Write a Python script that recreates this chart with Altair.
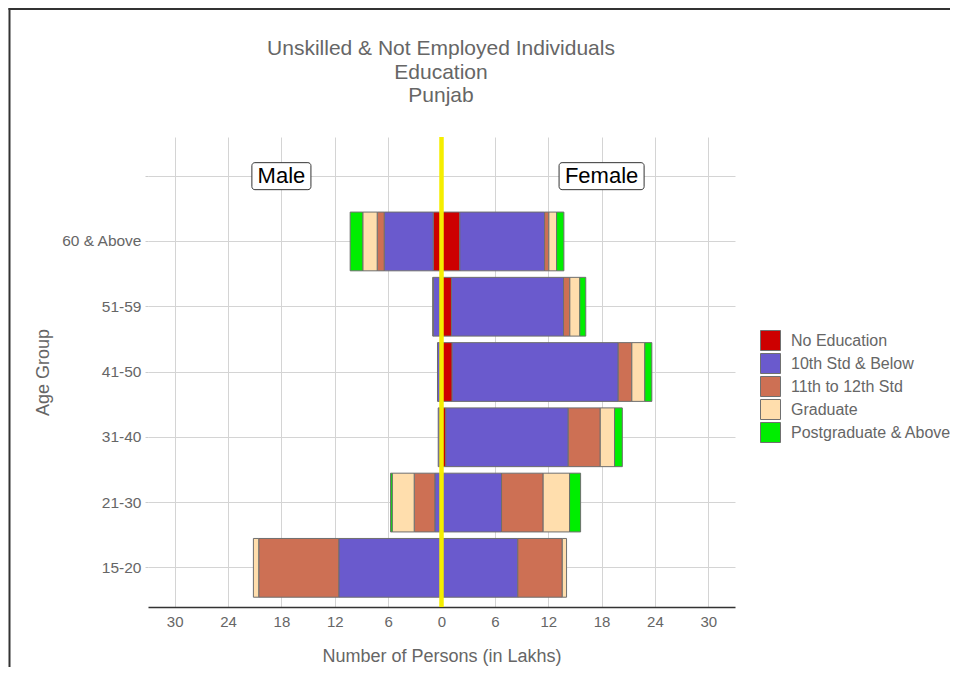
import altair as alt
import pandas as pd

# ---------------- data ----------------
age_groups = ["60 & Above", "51-59", "41-50", "31-40", "21-30", "15-20"]
education = ["No Education", "10th Std & Below", "11th to 12th Std",
             "Graduate", "Postgraduate & Above"]
edu_colors = ["#CD0000", "#6A5ACD", "#CD7054", "#FFDEAD", "#00EE00"]

# values in lakhs, order follows age_groups
male_no_edu = [0.93, 0.20, 0.15, 0.12, 0.05, 0.00]
male_10th = [5.51, 0.70, 0.30, 0.25, 0.70, 11.55]
male_11_12 = [0.79, 0.04, 0.00, 0.00, 2.32, 9.00]
male_grad = [1.62, 0.04, 0.00, 0.00, 2.47, 0.60]
male_pg = [1.42, 0.00, 0.00, 0.00, 0.19, 0.00]

female_no_edu = [2.06, 1.12, 1.20, 0.48, 0.03, 0.00]
female_10th = [9.53, 12.60, 18.67, 13.77, 6.72, 8.58]
female_11_12 = [0.48, 0.71, 1.53, 3.60, 4.68, 5.00]
female_grad = [0.87, 1.12, 1.46, 1.61, 2.97, 0.48]
female_pg = [0.82, 0.67, 0.79, 0.87, 1.24, 0.00]

x_ticks = [-30, -24, -18, -12, -6, 0, 6, 12, 18, 24, 30]
gender_labels = ["Male", "Female"]
gender_label_x = [-18, 18]
gender_label_halfwidth = [3.32, 4.78]
title_lines = ["Unskilled & Not Employed Individuals", "Education", "Punjab"]
zero_line = [0]

# ---------------- table ----------------
male_series = [male_no_edu, male_10th, male_11_12, male_grad, male_pg]
female_series = [female_no_edu, female_10th, female_11_12, female_grad, female_pg]
rows = []
for k, edu in enumerate(education):
    for i, age in enumerate(age_groups):
        if male_series[k][i] > 0:
            rows.append({"age": age, "edu": edu, "ord": k, "value": -male_series[k][i]})
        if female_series[k][i] > 0:
            rows.append({"age": age, "edu": edu, "ord": k, "value": female_series[k][i]})
df = pd.DataFrame(rows)

blank = " "
y_domain = [blank] + age_groups

FONT = "Liberation Sans"
TXT = "#666666"
GRID = "#d4d4d4"
W, H = 587, 470

y_scale = alt.Scale(domain=y_domain, paddingInner=0.1, paddingOuter=0.15)
y_axis = alt.Axis(title="Age Group", bandPosition=0.5, domain=False,
                  ticks=True, tickSize=3, tickColor="#cccccc",
                  grid=True, gridColor=GRID, gridWidth=1,
                  labelFontSize=15.5, labelColor=TXT, labelPadding=4,
                  titleFontSize=18, titleColor=TXT, titleFontWeight="normal",
                  titlePadding=8, labelFont=FONT, titleFont=FONT)
x_scale = alt.Scale(domain=[-33, 33], nice=False, zero=False)
x_axis = alt.Axis(title="Number of Persons (in Lakhs)", values=x_ticks,
                  labelExpr="format(abs(datum.value), 'd')",
                  ticks=False, domain=True, domainColor="#333333",
                  domainWidth=1.5, grid=True, gridColor=GRID, gridWidth=1,
                  labelFontSize=15, labelColor=TXT, labelPadding=7,
                  titleFontSize=18, titleColor=TXT, titleFontWeight="normal",
                  titlePadding=18, labelFont=FONT, titleFont=FONT)


def Y(field):
    return alt.Y(field, scale=y_scale, axis=y_axis)


def X(field, **kw):
    return alt.X(field, scale=x_scale, axis=x_axis, **kw)


bars = alt.Chart(df).mark_bar(stroke="#6e6e6e", strokeWidth=1).encode(
    y=Y("age:N"),
    x=X("value:Q", stack="zero"),
    color=alt.Color("edu:N", scale=alt.Scale(domain=education, range=edu_colors),
                    legend=alt.Legend(title=None, orient="none", legendX=612, legendY=193,
                                      symbolType="square", symbolSize=400,
                                      symbolStrokeColor="#707070", symbolStrokeWidth=1,
                                      symbolOpacity=1, rowPadding=-2, labelOffset=10,
                                      labelFontSize=16, labelColor=TXT, labelFont=FONT,
                                      labelLimit=400, padding=0)),
    order=alt.Order("ord:Q", sort="ascending"),
)

zero_rule = alt.Chart(pd.DataFrame({"zero": zero_line})).mark_rule(
    color="#F5EE00", strokeWidth=4.5).encode(x=X("zero:Q"))

lab_df = pd.DataFrame({
    "label": gender_labels,
    "cx": gender_label_x,
    "x1": [c - h for c, h in zip(gender_label_x, gender_label_halfwidth)],
    "x2": [c + h for c, h in zip(gender_label_x, gender_label_halfwidth)],
    "age": [blank, blank],
})

label_box = alt.Chart(lab_df).mark_bar(size=27, fill="white", stroke="#333333",
                                       strokeWidth=1, cornerRadius=3).encode(
    y=Y("age:N"),
    x=X("x1:Q"),
    x2="x2:Q",
)
label_text = alt.Chart(lab_df).mark_text(fontSize=22, font=FONT, color="black",
                                         baseline="middle").encode(
    y=Y("age:N"),
    x=X("cx:Q"),
    text="label:N",
)

title_df = pd.DataFrame({"t": ["\n".join(title_lines)]})
title_text = alt.Chart(title_df).mark_text(
    fontSize=21, font=FONT, color=TXT, align="center", baseline="top",
    lineBreak="\n", lineHeight=23.5).encode(
    x=alt.value(W / 2 - 0.5), y=alt.value(-99), text="t:N")

frame_df = pd.DataFrame({"f": [1]})
frame_v = alt.Chart(frame_df).mark_rule(color="#333333", strokeWidth=2).encode(
    x=alt.value(-138.5), y=alt.value(-129), y2=alt.value(700))
frame_h = alt.Chart(frame_df).mark_rule(color="#333333", strokeWidth=2).encode(
    x=alt.value(-139.5), x2=alt.value(900), y=alt.value(-128))

chart = alt.layer(bars, zero_rule, label_box, label_text, title_text, frame_v, frame_h).properties(
    width=W, height=H,
    autosize=alt.AutoSizeParams(type="none"),
    padding={"left": 140, "top": 129, "right": 215, "bottom": 60},
).configure(font=FONT).configure_view(stroke=None)

chart.save("out.html", embed_options={"renderer": "svg", "actions": False})
